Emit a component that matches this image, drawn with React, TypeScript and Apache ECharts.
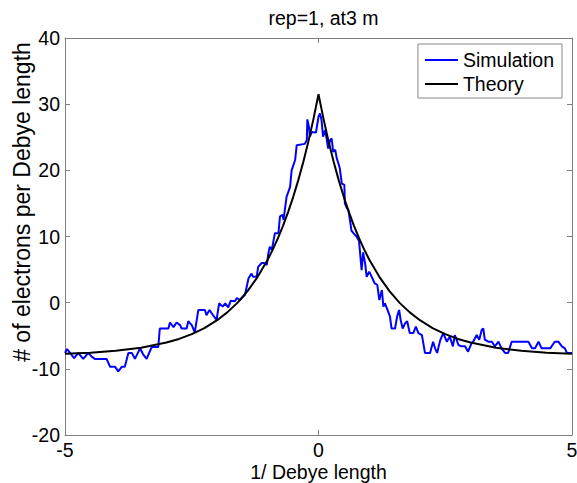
import React, { useEffect, useRef } from "react";
import * as echarts from "echarts";

const chartTitle = "rep=1, at3 m";
const xAxisName = "1/ Debye length";
const yAxisName = "# of electrons per Debye length";
const seriesNames = ["Simulation", "Theory"];

const simX = [
  -5.0, -4.96, -4.9, -4.82, -4.74, -4.64, -4.54, -4.47, -4.41, -4.18,
  -4.11, -4.01, -3.95, -3.88, -3.82, -3.75, -3.68, -3.62, -3.52, -3.46,
  -3.39, -3.29, -3.16, -3.13, -2.96, -2.93, -2.86, -2.8, -2.73, -2.7,
  -2.6, -2.57, -2.5, -2.44, -2.37, -2.24, -2.21, -2.15, -2.08, -2.01,
  -1.96, -1.89, -1.84, -1.78, -1.73, -1.65, -1.61, -1.55, -1.45, -1.38,
  -1.32, -1.29, -1.22, -1.19, -1.12, -1.06, -1.02, -0.99, -0.96, -0.92,
  -0.86, -0.79, -0.76, -0.71, -0.69, -0.63, -0.56, -0.53, -0.46, -0.43,
  -0.27, -0.23, -0.22, -0.19, -0.17, -0.13, -0.05, 0.0, 0.03, 0.06,
  0.09, 0.13, 0.16, 0.19, 0.23, 0.26, 0.29, 0.33, 0.36, 0.39,
  0.42, 0.46, 0.51, 0.52, 0.56, 0.59, 0.62, 0.65, 0.69, 0.75,
  0.8, 0.85, 0.88, 0.92, 0.95, 1.0, 1.05, 1.11, 1.16, 1.2,
  1.25, 1.28, 1.31, 1.35, 1.41, 1.44, 1.51, 1.55, 1.59, 1.62,
  1.66, 1.71, 1.75, 1.8, 1.87, 1.92, 1.97, 2.04, 2.1, 2.2,
  2.26, 2.3, 2.34, 2.4, 2.46, 2.53, 2.59, 2.65, 2.69, 2.76,
  2.82, 2.89, 2.95, 3.02, 3.05, 3.12, 3.17, 3.22, 3.25, 3.28,
  3.35, 3.42, 3.48, 3.55, 3.61, 3.68, 3.74, 3.81, 4.14, 4.21,
  4.27, 4.34, 4.4, 4.57, 4.66, 4.73, 4.8, 4.86, 4.9, 5.0,
];
const simY = [
  -7.6, -7.0, -7.6, -8.4, -7.6, -8.5, -7.6, -8.2, -8.5, -8.5,
  -9.7, -9.7, -10.4, -9.7, -9.7, -7.6, -7.6, -8.5, -6.9, -7.8,
  -8.5, -6.7, -6.7, -3.9, -3.9, -3.0, -3.7, -3.0, -3.4, -3.9,
  -3.9, -2.8, -3.4, -4.5, -1.1, -1.1, -1.9, -1.1, -1.9, -2.6,
  -0.1, -0.6, -0.1, -0.7, 0.3, 0.2, 0.7, 0.4, 1.2, 3.7,
  4.4, 3.9, 3.9, 5.4, 6.0, 6.0, 5.7, 7.4, 8.45, 8.0,
  10.5, 10.5, 13.0, 13.3, 12.5, 16.0, 17.5, 20.0, 21.6, 23.8,
  24.0, 24.6, 27.7, 26.6, 25.1, 25.8, 25.7, 28.1, 28.6, 27.6,
  25.1, 26.1, 24.8, 23.3, 24.6, 24.8, 22.8, 23.1, 21.8, 21.1,
  20.3, 18.0, 17.8, 15.0, 14.3, 14.0, 12.5, 10.9, 10.5, 10.0,
  9.3, 4.9, 7.6, 5.9, 3.9, 4.7, 3.9, 2.9, 2.7, 0.4,
  1.9, -0.6, -0.1, -0.85, -2.1, -3.9, -3.9, -2.1, -1.1, -2.6,
  -3.9, -3.1, -2.8, -4.6, -4.6, -3.6, -4.6, -4.9, -7.6, -7.6,
  -5.9, -6.9, -7.6, -5.7, -4.6, -5.9, -5.1, -6.6, -4.9, -6.4,
  -6.6, -6.6, -7.4, -6.1, -5.9, -4.9, -5.6, -4.1, -3.9, -5.6,
  -5.9, -5.9, -6.6, -5.9, -6.9, -7.6, -7.6, -5.9, -5.9, -6.9,
  -6.9, -5.9, -6.9, -6.9, -5.9, -5.9, -6.6, -6.9, -7.6, -7.6,
];

const theoryX = [
  -5, -4.5, -4, -3.5, -3, -2.75, -2.5, -2.25, -2, -1.8, -1.6, -1.4, -1.2, -1,
  -0.9, -0.8, -0.7, -0.6, -0.5, -0.4, -0.3, -0.2, -0.1, 0,
  0.1, 0.2, 0.3, 0.4, 0.5, 0.6, 0.7, 0.8, 0.9, 1, 1.2, 1.4, 1.6, 1.8, 2,
  2.25, 2.5, 2.75, 3, 3.5, 4, 4.5, 5,
];
const theoryY = [
  -7.73, -7.56, -7.28, -6.81, -6.03, -5.48, -4.76, -3.84, -2.65, -1.47, -0.03, 1.74, 3.9, 6.53,
  8.06, 9.75, 11.61, 13.68, 15.96, 18.48, 21.26, 24.34, 27.74, 31.5,
  27.74, 24.34, 21.26, 18.48, 15.96, 13.68, 11.61, 9.75, 8.06, 6.53, 3.9, 1.74, -0.03, -1.47, -2.65,
  -3.84, -4.76, -5.48, -6.03, -6.81, -7.28, -7.56, -7.73,
];

const FONT = '"Liberation Sans", Arial, Helvetica, sans-serif';
const AXIS_GRAY = "#808080";
const TEXT = "#000000";
const FS = 19.5;

export default function App() {
  const ref = useRef<HTMLDivElement>(null);

  useEffect(() => {
    if (!ref.current) return;
    const chart = echarts.init(ref.current, null, { renderer: "svg" });

    const baseX = {
      type: "value" as const,
      min: -5,
      max: 5,
      interval: 5,
      splitLine: { show: false },
      axisLine: { onZero: false, lineStyle: { color: AXIS_GRAY, width: 1 } },
      axisTick: { inside: true, length: 5, lineStyle: { color: AXIS_GRAY } },
    };
    const baseY = {
      type: "value" as const,
      min: -20,
      max: 40,
      interval: 10,
      splitLine: { show: false },
      axisLine: { onZero: false, lineStyle: { color: AXIS_GRAY, width: 1 } },
      axisTick: { inside: true, length: 5, lineStyle: { color: AXIS_GRAY } },
    };

    chart.setOption({
      animation: false,
      backgroundColor: "#ffffff",
      textStyle: { fontFamily: FONT },
      title: {
        text: chartTitle,
        left: 318.5,
        top: 3,
        textAlign: "center",
        textStyle: { fontSize: FS, fontWeight: "normal", color: TEXT, fontFamily: FONT },
      },
      grid: { left: 65, right: 5, top: 38, bottom: 48, containLabel: false, outerBoundsMode: "none" },
      legend: {
        data: seriesNames,
        orient: "vertical",
        right: 15,
        top: 44,
        backgroundColor: "#ffffff",
        borderColor: "#888888",
        borderWidth: 1,
        borderRadius: 0,
        padding: [6, 8, 4, 6],
        itemGap: 4,
        itemWidth: 33,
        itemHeight: 20,
        itemStyle: { opacity: 0 },
        textStyle: { fontSize: FS, color: TEXT, fontFamily: FONT },
      },
      graphic: [
        {
          type: "text",
          x: 22,
          y: 202,
          rotation: Math.PI / 2,
          style: {
            text: yAxisName,
            fontSize: 23,
            fontFamily: FONT,
            fill: TEXT,
            textAlign: "center",
            textVerticalAlign: "middle",
          },
        },
      ],
      xAxis: [
        {
          ...baseX,
          position: "bottom",
          axisLabel: { fontSize: FS, color: TEXT, margin: 5, showMinLabel: true, showMaxLabel: true, fontFamily: FONT },
          name: xAxisName,
          nameLocation: "middle",
          nameGap: 27,
          nameMoveOverlap: false,
          nameTextStyle: { fontSize: FS, color: TEXT, fontFamily: FONT },
        },
        { ...baseX, position: "top", axisLabel: { show: false } },
      ],
      yAxis: [
        {
          ...baseY,
          position: "left",
          axisLabel: { fontSize: FS, color: TEXT, margin: 5, showMinLabel: true, showMaxLabel: true, fontFamily: FONT },
        },
        { ...baseY, position: "right", axisLabel: { show: false } },
      ],
      series: [
        {
          name: seriesNames[0],
          type: "line",
          xAxisIndex: 0,
          yAxisIndex: 0,
          data: simX.map((x, i) => [x, simY[i]]),
          symbol: "none",
          lineStyle: { color: "#0000ff", width: 2 },
          itemStyle: { color: "#0000ff" },
          z: 3,
        },
        {
          name: seriesNames[1],
          type: "line",
          xAxisIndex: 0,
          yAxisIndex: 0,
          data: theoryX.map((x, i) => [x, theoryY[i]]),
          symbol: "none",
          lineStyle: { color: "#000000", width: 2 },
          itemStyle: { color: "#000000" },
          z: 4,
        },
      ],
    });

    return () => chart.dispose();
  }, []);

  return (
    <div
      ref={ref}
      style={{ position: "absolute", left: 0, top: 0, width: 577, height: 483, background: "#ffffff" }}
    />
  );
}
